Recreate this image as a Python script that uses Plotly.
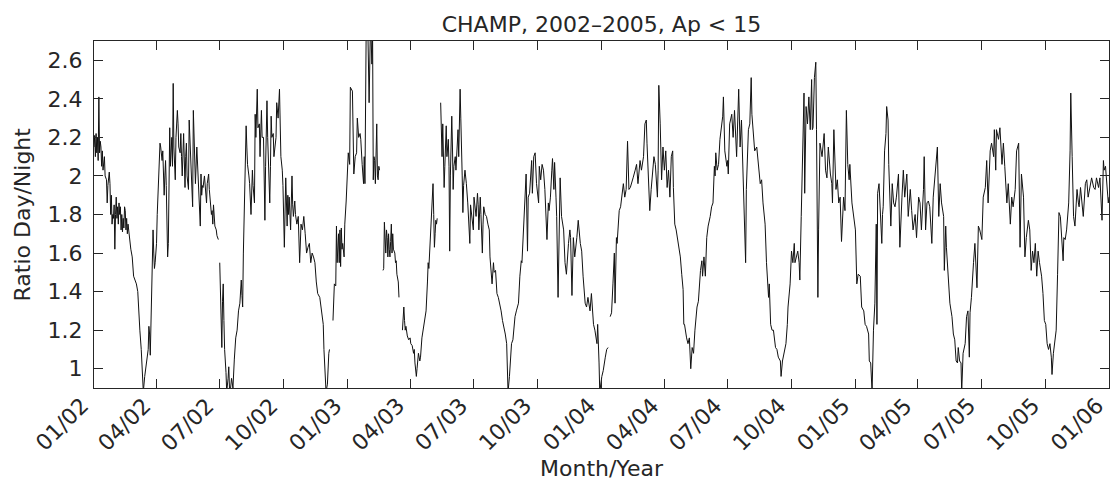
import pandas as pd
import plotly.graph_objects as go

START = "2002-01-01"
# (day offset since 2002-01-01, Day/Night ratio); None = data gap
obs_2002 = [
    (0, 2.15), (1, 2.21), (2, 2.10), (3, 2.22), (4, 2.12), (5, 2.20), (6, 2.08), (7, 2.41), (8, 2.12), (9, 2.18),
    (10, 2.15), (11, 2.05), (12, 2.13), (13, 2.03), (15, 2.10), (16, 2.00), (18, 1.98), (19, 1.86), (20, 1.95),
    (22, 2.02), (23, 1.96), (24, 1.80), (25, 1.90), (26, 1.75), (27, 1.80), (28, 1.78), (29, 1.85), (30, 1.62),
    (31, 1.80), (32, 1.89), (33, 1.78), (34, 1.84), (35, 1.75), (36, 1.86), (37, 1.80), (38, 1.84), (39, 1.72),
    (40, 1.80), (41, 1.71), (42, 1.78), (43, 1.73), (44, 1.84), (45, 1.82), (46, 1.72), (47, 1.78), (48, 1.70),
    (49, 1.75), (50, 1.72), (51, 1.66), (52, 1.64), (53, 1.62), (55, 1.58), (57, 1.48), (59, 1.46), (61, 1.44),
    (63, 1.40), (64, 1.30), (66, 1.20), (68, 1.10), (70, 0.95), (71, 0.88), (73, 0.96), (75, 1.02), (77, 1.05),
    (78, 1.10), (79, 1.22), (80, 1.18), (81, 1.07), (82, 1.20), (83, 1.40), (84, 1.55), (85, 1.72), (86, 1.60),
    (87, 1.52), (88, 1.55), (90, 1.65), (91, 1.80), (93, 1.98), (95, 2.17), (96, 2.15), (98, 2.08), (99, 2.13),
    (100, 2.00), (101, 1.90), (102, 2.00), (103, 2.08), (104, 1.95), (105, 1.75), (106, 1.58), (107, 1.65),
    (108, 1.95), (109, 2.25), (110, 2.05), (111, 2.10), (112, 2.20), (113, 2.05), (114, 2.48), (115, 2.15),
    (116, 2.05), (117, 1.98), (118, 2.20), (119, 2.33), (120, 2.34), (121, 2.27), (122, 2.15), (124, 2.12),
    (125, 2.22), (126, 2.10), (127, 2.00), (129, 2.22), (130, 2.05), (131, 1.94), (132, 2.10), (133, 2.17),
    (134, 2.00), (136, 1.93), (137, 2.29), (138, 2.20), (139, 2.10), (140, 2.06), (141, 1.95), (142, 1.84),
    (143, 2.34), (144, 2.20), (145, 2.00), (146, 1.96), (148, 2.15), (149, 2.05), (150, 2.00), (151, 1.85),
    (153, 1.74), (154, 2.01), (155, 1.90), (156, 1.95), (157, 1.94), (159, 2.00), (160, 1.95), (162, 1.86),
    (163, 1.96), (165, 2.01), (166, 1.93), (167, 1.87), (169, 1.80), (170, 1.82), (171, 1.75), (172, 1.85),
    (174, 1.74), (176, 1.72), (177, 1.69), (179, 1.67), (180, None), (181, 1.55), (182, 1.40), (183, 1.30),
    (184, 1.11), (185, 1.35), (186, 1.44), (187, 1.25), (188, 1.10), (190, 0.98), (191, 0.88), (193, 0.95),
    (194, 1.01), (195, 0.90), (196, 0.88), (198, 0.95), (200, 0.90), (202, 1.05), (204, 1.16), (206, 1.20),
    (208, 1.30), (210, 1.34), (211, 1.40), (212, 1.46), (213, 1.38), (214, 1.32), (215, 1.60), (216, 1.79),
    (218, 2.05), (219, 2.26), (220, 2.15), (221, 2.06), (223, 2.00), (224, 1.96), (226, 1.80), (227, 1.95),
    (228, 2.03), (229, 1.95), (231, 1.86), (232, 2.32), (233, 2.20), (235, 2.45), (236, 2.25), (238, 2.27),
    (239, 2.10), (241, 2.34), (242, 2.20), (244, 2.20), (246, 1.77), (247, 2.05), (249, 2.39), (250, 2.20),
    (251, 2.10), (253, 1.86), (254, 2.05), (255, 2.31), (256, 2.20), (258, 2.22), (259, 2.10), (261, 2.15),
    (262, 2.20), (263, 2.38), (265, 2.30), (267, 2.45), (268, 2.25), (269, 2.10), (271, 2.03), (272, 1.95),
    (274, 1.63), (275, 1.90), (276, 1.99), (278, 1.74), (279, 1.90), (280, 1.80), (281, 1.89), (283, 1.72),
    (284, 1.85), (285, 2.00), (286, 1.85), (287, 1.79), (289, 1.87), (290, 1.80), (292, 1.75), (294, 1.79),
    (296, 1.55), (297, 1.70), (298, 1.75), (300, 1.72), (302, 1.79), (304, 1.70), (306, 1.60), (308, 1.63),
    (310, 1.65), (312, 1.55), (314, 1.60), (316, 1.58), (318, 1.55), (320, 1.45), (322, 1.39), (325, 1.37),
    (327, 1.32), (329, 1.25), (330, 1.23), (331, 1.10), (332, 1.03), (333, 0.95), (334, 0.88), (336, 0.92),
    (337, 1.05), (338, 1.08), (339, 1.10), (341, None), (344, 1.25), (345, 1.35), (346, 1.44), (348, 1.43),
    (349, 1.74), (350, 1.55), (351, 1.60), (352, 1.70), (353, 1.55), (354, 1.72), (355, 1.53), (356, 1.73),
    (357, 1.62), (358, 1.65), (360, 1.58), (361, 1.75), (363, 1.87),
]
obs_2003 = [
    (365, 2.03), (366, 2.12), (368, 2.06), (369, 2.46), (372, 2.44), (373, 2.24), (374, 2.01), (376, 2.10),
    (378, 2.12), (379, 2.30), (381, 2.20), (383, 2.22), (384, 2.19), (386, 2.06), (388, 1.96), (389, 2.10),
    (390, 1.96), (392, 2.85), (394, 2.80), (396, 2.38), (397, 2.60), (398, 2.80), (399, 2.70), (400, 2.58),
    (401, 2.75), (402, 1.98), (403, 2.10), (404, 2.08), (405, 1.96), (406, 2.15), (407, 2.27), (408, 2.00),
    (409, 1.98), (410, 2.05), (411, 2.03), (413, None), (416, 1.51), (417, 1.52), (418, 1.76), (419, 1.65),
    (420, 1.60), (421, 1.72), (422, 1.68), (423, 1.58), (424, 1.70), (425, 1.62), (426, 1.58), (427, 1.66),
    (428, 1.75), (429, 1.60), (430, 1.70), (431, 1.62), (433, 1.60), (434, 1.55), (435, 1.56), (436, 1.49),
    (438, 1.45), (439, 1.37), (441, None), (444, 1.20), (445, 1.28), (446, 1.32), (447, 1.25), (448, 1.20),
    (449, 1.22), (451, 1.17), (453, 1.15), (455, 1.16), (456, 1.13), (458, 1.12), (460, 1.08), (461, 1.10),
    (462, 1.03), (464, 0.96), (465, 1.00), (466, 1.06), (467, 1.08), (469, 1.04), (470, 1.06), (472, 1.16),
    (474, 1.20), (476, 1.25), (478, 1.30), (480, 1.45), (481, 1.55), (482, 1.52), (483, 1.61), (485, 1.75),
    (486, 1.86), (488, 1.96), (489, 1.80), (490, 1.63), (491, 1.70), (492, 1.77), (493, 1.75), (494, 1.78),
    (496, None), (499, 2.38), (500, 2.22), (501, 2.10), (502, 2.27), (503, 2.15), (504, 1.94), (505, 2.05),
    (506, 2.24), (507, 2.26), (508, 2.10), (509, 2.15), (510, 2.19), (511, 2.05), (512, 1.61), (513, 2.00),
    (515, 2.31), (516, 2.15), (517, 1.93), (518, 2.05), (520, 2.10), (521, 2.03), (522, 2.13), (524, 2.24),
    (525, 2.10), (526, 2.30), (527, 2.45), (528, 2.30), (529, 2.19), (530, 2.00), (531, 1.81), (532, 1.95),
    (534, 2.03), (535, 2.00), (536, 1.96), (538, 1.86), (539, 1.80), (541, 1.65), (542, 1.85), (543, 1.82),
    (544, 1.76), (546, 1.72), (547, 1.89), (549, 1.80), (550, 1.79), (552, 1.91), (553, 1.85), (554, 1.72),
    (556, 1.89), (557, 1.80), (559, 1.60), (560, 1.75), (561, 1.84), (563, 1.80), (565, 1.79), (567, 1.75),
    (569, 1.72), (570, 1.58), (572, 1.50), (573, 1.44), (575, 1.55), (576, 1.50), (578, 1.51), (580, 1.39),
    (582, 1.37), (584, 1.34), (586, 1.30), (588, 1.25), (590, 1.22), (592, 1.18), (594, 1.13), (595, 1.05),
    (596, 0.88), (598, 0.96), (599, 1.03), (601, 1.13), (603, 1.15), (606, 1.27), (608, 1.30), (611, 1.34),
    (613, 1.48), (615, 1.56), (616, 1.55), (618, 1.72), (620, 1.86), (622, 2.01), (624, 1.61), (625, 1.89),
    (627, 1.91), (629, 2.03), (630, 2.08), (631, 1.91), (633, 2.10), (635, 2.12), (637, 1.96), (640, 1.86),
    (641, 2.05), (643, 1.98), (645, 2.06), (647, 2.03), (649, 1.93), (652, 1.67), (654, 1.86), (655, 1.82),
    (657, 1.89), (659, 2.03), (660, 2.09), (662, 1.93), (663, 2.07), (665, 1.89), (666, 1.79), (668, 1.37),
    (670, 1.79), (671, 1.99), (673, 1.79), (676, 1.72), (678, 1.55), (680, 1.49), (683, 1.65), (685, 1.72),
    (686, 1.68), (688, 1.38), (690, 1.68), (692, 1.58), (695, 1.68), (697, 1.77), (700, 1.65), (702, 1.61),
    (704, 1.48), (707, 1.34), (709, 1.32), (711, 1.37), (714, 1.30), (716, 1.39), (719, 1.23), (721, 1.20),
    (724, 1.13), (725, 1.23), (727, 1.03), (728, 0.88),
]
obs_2004 = [
    (731, 0.96), (733, 0.99), (736, 1.06), (738, 1.10), (740, 1.11), (741, None), (743, 1.27), (745, 1.29),
    (747, 1.44), (749, 1.60), (750, 1.34), (752, 1.68), (753, 1.65), (756, 1.82), (758, 1.84), (762, 1.96),
    (764, 1.89), (766, 1.93), (768, 2.18), (770, 1.93), (772, 1.94), (774, 1.96), (776, 1.99), (779, 2.03),
    (781, 2.06), (783, 1.96), (786, 2.08), (788, 2.03), (791, 2.10), (793, 2.27), (795, 2.29), (796, 2.17),
    (799, 1.84), (800, 1.82), (802, 1.93), (804, 2.03), (806, 2.10), (808, 2.06), (811, 1.89), (812, 2.03),
    (813, 2.47), (815, 2.27), (817, 1.98), (819, 2.15), (821, 2.03), (823, 2.13), (825, 1.94), (827, 2.03),
    (829, 1.89), (831, 2.10), (833, 2.13), (834, 1.94), (836, 1.75), (838, 1.72), (840, 1.68), (842, 1.62),
    (844, 1.58), (846, 1.49), (848, 1.41), (849, 1.23), (850, 1.23), (853, 1.16), (855, 1.13), (857, 1.16),
    (859, 1.00), (861, 1.11), (863, 1.08), (865, 1.20), (868, 1.32), (870, 1.35), (872, 1.48), (873, 1.51),
    (875, 1.56), (876, 1.48), (878, 1.58), (880, 1.48), (882, 1.68), (884, 1.74), (887, 1.79), (889, 1.84),
    (891, 1.86), (893, 2.05), (894, 2.00), (895, 2.12), (897, 2.03), (899, 2.06), (901, 2.19), (903, 2.25),
    (905, 2.31), (906, 2.41), (908, 2.13), (911, 2.05), (912, 2.08), (913, 2.01), (915, 2.27), (918, 2.32),
    (920, 2.20), (922, 2.34), (923, 2.25), (925, 2.10), (928, 2.45), (930, 2.15), (932, 2.29), (934, 2.03),
    (936, 1.72), (938, 1.55), (939, 1.93), (941, 2.15), (942, 2.24), (944, 2.27), (946, 2.51), (947, 2.32),
    (949, 2.19), (951, 2.13), (954, 2.15), (956, 2.06), (959, 1.96), (961, 1.98), (963, 1.86), (966, 1.75),
    (968, 1.55), (971, 1.37), (972, 1.44), (974, 1.23), (976, 1.20), (978, 1.20), (981, 1.11), (983, 1.10),
    (985, 1.06), (988, 1.04), (989, 0.96), (991, 1.04), (993, 1.08), (996, 1.13), (998, 1.23), (999, 1.32),
    (1002, 1.44), (1004, 1.61), (1006, 1.55), (1008, 1.65), (1009, 1.55), (1011, 1.58), (1013, 1.61),
    (1015, 1.55), (1016, 1.46), (1018, 1.79), (1020, 2.06), (1022, 2.43), (1023, 1.91), (1025, 2.36),
    (1027, 2.27), (1029, 2.41), (1031, 2.24), (1033, 2.50), (1034, 2.24), (1035, 2.25), (1037, 2.51),
    (1038, 2.57), (1039, 2.59), (1040, 2.24), (1042, 1.37), (1043, 1.72), (1045, 2.17), (1048, 2.10),
    (1049, 2.13), (1051, 2.22), (1053, 2.03), (1055, 1.99), (1057, 2.15), (1059, 2.03), (1060, 2.01),
    (1062, 1.96), (1063, 1.86), (1065, 2.24), (1067, 2.03), (1068, 1.93), (1070, 1.98), (1072, 1.86),
    (1074, 1.89), (1076, 1.66), (1079, 1.89), (1081, 1.82), (1083, 2.34), (1085, 2.06), (1087, 1.98),
    (1088, 2.06), (1091, 1.86), (1093, 1.79),
]
obs_2005 = [
    (1096, 1.72), (1098, 1.44), (1100, 1.49), (1103, 1.48), (1105, 1.32), (1108, 1.30), (1110, 1.23),
    (1112, 1.22), (1115, 1.18), (1116, 1.04), (1118, 1.03), (1120, 0.88), (1122, 1.20), (1124, 1.34),
    (1126, 1.75), (1127, 1.23), (1128, 1.91), (1130, 1.96), (1131, 1.89), (1134, 1.65), (1135, 1.80),
    (1136, 1.84), (1138, 2.13), (1140, 2.22), (1141, 2.36), (1143, 2.29), (1144, 2.06), (1146, 1.89),
    (1147, 1.74), (1149, 1.96), (1151, 1.86), (1153, 1.84), (1155, 1.89), (1158, 2.01), (1160, 1.63),
    (1163, 1.89), (1165, 2.03), (1167, 1.89), (1170, 2.01), (1172, 1.79), (1175, 1.93), (1177, 1.82),
    (1179, 1.72), (1182, 1.80), (1184, 1.68), (1187, 1.89), (1189, 1.86), (1191, 1.72), (1194, 1.93),
    (1195, 2.10), (1197, 1.72), (1199, 1.86), (1201, 1.87), (1203, 1.84), (1206, 1.65), (1208, 1.89),
    (1211, 2.01), (1213, 2.13), (1214, 2.15), (1216, 1.79), (1218, 1.96), (1220, 1.86), (1223, 1.79),
    (1224, 1.51), (1226, 1.74), (1227, 1.63), (1230, 1.44), (1232, 1.34), (1235, 1.27), (1237, 1.18),
    (1239, 1.15), (1241, 1.04), (1243, 1.03), (1244, 1.11), (1246, 1.04), (1248, 1.03), (1249, 0.88),
    (1251, 1.08), (1254, 1.13), (1256, 1.27), (1258, 1.30), (1260, 1.06), (1261, 1.29), (1263, 1.37),
    (1266, 1.55), (1268, 1.65), (1271, 1.42), (1273, 1.74), (1275, 1.72), (1278, 1.67), (1280, 1.89),
    (1283, 1.94), (1285, 2.08), (1287, 1.86), (1290, 2.13), (1292, 2.17), (1295, 2.10), (1296, 2.24),
    (1298, 2.03), (1299, 2.24), (1302, 2.19), (1304, 2.25), (1307, 2.06), (1309, 2.17), (1311, 2.05),
    (1314, 1.86), (1316, 1.96), (1319, 1.75), (1321, 1.89), (1323, 1.84), (1326, 1.93), (1328, 2.13),
    (1331, 2.17), (1333, 1.63), (1335, 2.01), (1338, 1.89), (1340, 1.58), (1342, 1.68), (1345, 1.77),
    (1347, 1.72), (1349, 1.51), (1351, 1.61), (1353, 1.55), (1355, 1.65), (1357, 1.48), (1359, 1.61),
    (1361, 1.55), (1363, 1.51), (1364, 1.48), (1366, 1.39), (1368, 1.25), (1370, 1.23), (1372, 1.13),
    (1374, 1.10), (1376, 1.13), (1378, 1.06), (1379, 0.97), (1381, 1.08), (1383, 1.13), (1385, 1.20),
    (1387, 1.49), (1389, 1.81), (1391, 1.79), (1393, 1.68), (1395, 1.56), (1396, 1.68), (1398, 1.67),
    (1400, 1.72), (1402, 1.79), (1403, 1.86), (1405, 2.13), (1406, 2.43), (1408, 2.10), (1410, 1.79),
    (1412, 1.74), (1415, 1.93), (1417, 1.86), (1418, 1.84), (1420, 1.94), (1422, 1.84), (1424, 1.79),
    (1427, 1.96), (1429, 1.98), (1431, 1.89), (1434, 1.94), (1436, 1.99), (1439, 1.94), (1441, 1.93),
    (1443, 1.99), (1446, 1.94), (1448, 1.99), (1451, 1.77), (1453, 2.08), (1454, 2.03), (1456, 2.05),
    (1458, 1.94), (1460, 1.86), (1461, 1.89),
]

tick_dates = ["2002-01-01", "2002-04-01", "2002-07-01", "2002-10-01", "2003-01-01", "2003-04-01",
              "2003-07-01", "2003-10-01", "2004-01-01", "2004-04-01", "2004-07-01", "2004-10-01",
              "2005-01-01", "2005-04-01", "2005-07-01", "2005-10-01", "2006-01-01"]
tick_labels = ["01/02", "04/02", "07/02", "10/02", "01/03", "04/03", "07/03", "10/03", "01/04",
               "04/04", "07/04", "10/04", "01/05", "04/05", "07/05", "10/05", "01/06"]

obs = obs_2002 + obs_2003 + obs_2004 + obs_2005
days = [d for d, _ in obs]
ratio = [v for _, v in obs]
dates = pd.Timestamp(START) + pd.to_timedelta(days, unit="D")

FONT = "DejaVu Sans"
TXT = "#262626"

fig = go.Figure(go.Scatter(x=dates, y=ratio, mode="lines", connectgaps=False,
                           line=dict(color="#111111", width=1)))

axis_common = dict(showline=True, linecolor=TXT, linewidth=1, mirror="ticks", ticks="inside",
                   ticklen=9, tickwidth=1, tickcolor=TXT, showgrid=False, zeroline=False,
                   automargin=False, tickfont=dict(family=FONT, size=22, color=TXT))

# rotated month/year labels, right end anchored at each tick
tick_annotations = [
    dict(text=lab, x=d, xref="x", y=0, yref="paper", textangle=-45, xanchor="right",
         yanchor="top", xshift=2, yshift=-3, showarrow=False,
         font=dict(family=FONT, size=22, color=TXT))
    for d, lab in zip(tick_dates, tick_labels)
]

fig.update_layout(
    width=1112, height=483,
    margin=dict(l=94, r=3, t=41, b=95, autoexpand=False),
    paper_bgcolor="white", plot_bgcolor="white",
    showlegend=False,
    title=dict(text="CHAMP, 2002\u20132005, Ap < 15", x=0.5, xref="paper", xanchor="center",
               y=1 - 24 / 483, yref="container", yanchor="middle",
               font=dict(family=FONT, size=22, color=TXT)),
    xaxis=dict(type="date", range=["2002-01-01", "2006-01-01 00:40"], tickmode="array",
               tickvals=tick_dates, showticklabels=False, **axis_common),
    yaxis=dict(range=[0.9, 2.7], tickmode="linear", tick0=1, dtick=0.2, ticklabelstandoff=6,
               **axis_common),
    annotations=tick_annotations + [
        dict(text="Ratio Day/Night", textangle=-90, xref="paper", yref="paper",
             x=-72 / 1015, y=0.5, xanchor="center", yanchor="middle", showarrow=False,
             font=dict(family=FONT, size=22, color=TXT)),
        dict(text="Month/Year", xref="paper", yref="paper", x=0.5, y=-(469 - 388) / 347,
             xanchor="center", yanchor="middle", showarrow=False,
             font=dict(family=FONT, size=22, color=TXT)),
    ],
)

fig.write_html("out.html")
